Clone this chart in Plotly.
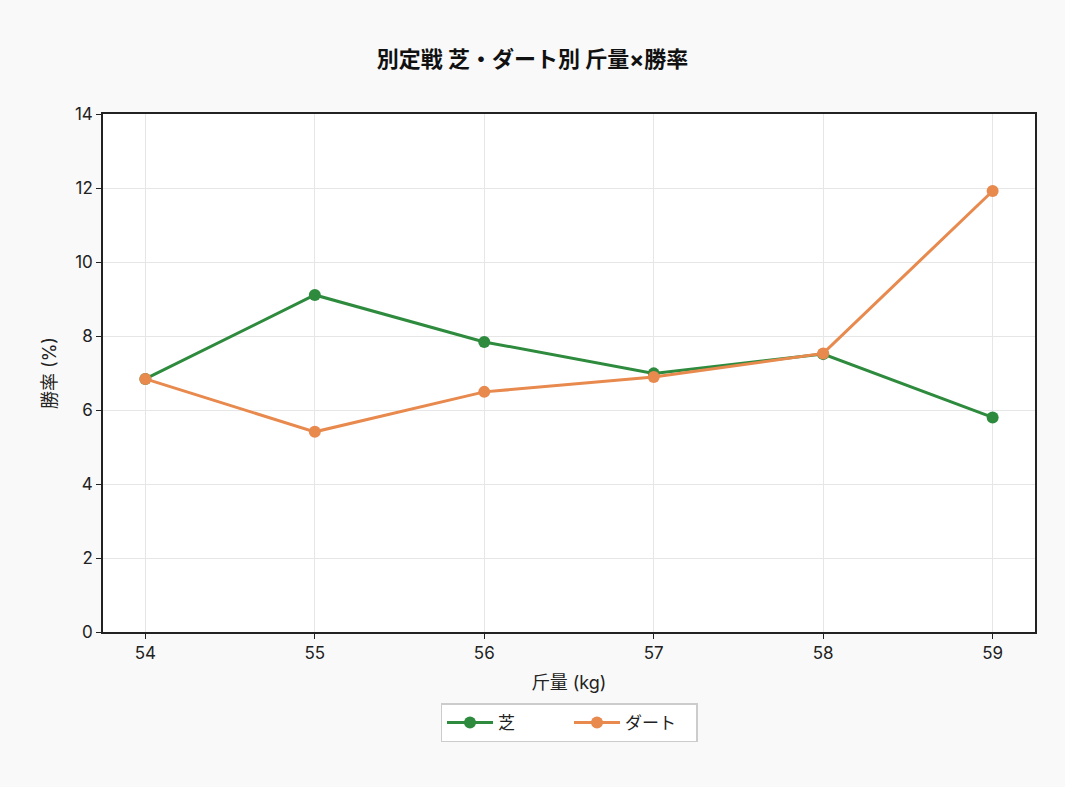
import plotly.graph_objects as go

weights = [54, 55, 56, 57, 58, 59]
turf = [6.84, 9.11, 7.84, 6.99, 7.51, 5.80]
dirt = [6.84, 5.41, 6.49, 6.89, 7.53, 11.92]
y_ticks = [0, 2, 4, 6, 8, 10, 12, 14]

FONT = "Inter, Noto Sans CJK JP"
fig = go.Figure()
fig.add_trace(go.Scatter(x=weights, y=turf, mode="lines+markers", name="芝",
                         line=dict(color="#2e8b3e", width=3),
                         marker=dict(size=12, color="#2e8b3e")))
fig.add_trace(go.Scatter(x=weights, y=dirt, mode="lines+markers", name="ダート",
                         line=dict(color="#e8894e", width=3),
                         marker=dict(size=12, color="#e8894e")))

axis_common = dict(showline=True, linecolor="#222222", linewidth=1.5, mirror=True,
                   ticks="outside", ticklen=5, tickcolor="#222222",
                   showgrid=True, gridcolor="#e6e6e6", gridwidth=1, zeroline=False,
                   tickfont=dict(family=FONT, size=17, color="#222222"))

fig.update_layout(
    width=1065, height=787,
    paper_bgcolor="#f9f9f9", plot_bgcolor="#ffffff",
    margin=dict(l=103, r=30, t=114, b=155),
    title=dict(text="<b>別定戦 芝・ダート別 斤量×勝率</b>", x=0.5, xanchor="center",
               y=0.925, yanchor="middle",
               font=dict(family=FONT, size=22, color="#111111")),
    font=dict(family=FONT, color="#222222"),
    xaxis=dict(range=[53.75, 59.25], tickvals=weights,
               title=dict(text="斤量 (kg)", font=dict(family=FONT, size=18), standoff=14),
               **axis_common),
    yaxis=dict(range=[0, 14], tickvals=y_ticks,
               title=dict(text="勝率 (%)", font=dict(family=FONT, size=18), standoff=14),
               **axis_common),
    legend=dict(orientation="h", x=0.5, xanchor="center", y=-0.138, yanchor="top",
                bgcolor="#ffffff", bordercolor="#cccccc", borderwidth=1.5,
                font=dict(family=FONT, size=17), itemwidth=46, entrywidth=66),
    showlegend=True,
)

fig.write_html("out.html")
